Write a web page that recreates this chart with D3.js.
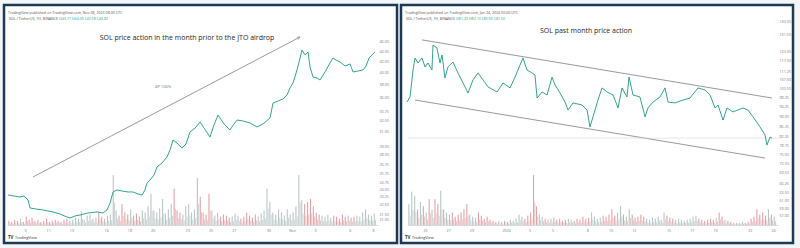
<!DOCTYPE html>
<html>
<head>
<meta charset="utf-8">
<script src="https://cdn.jsdelivr.net/npm/d3@7"></script>
<style>
  body { margin: 0; background: #f4f5f7; }
  svg { display: block; font-family: 'Open Sans', 'Noto Sans', sans-serif; }
</style>
</head>
<body>
<svg id="svg" width="800" height="248"></svg>
<script>
/*********************
 * Data
 *********************/
const leftTitle = 'SOL price action in the month prior to the JTO airdrop';
const rightTitle = 'SOL past month price action';
const leftHeader = ['TradingView published on TradingView.com, Nov 08, 2023 08:00 UTC', 'SOL / TetherUS, 1H, BINANCE', 'O43.71 H44.05 L43.58 C43.82'];
const rightHeader = ['TradingView published on TradingView.com, Jan 24, 2024 00:00 UTC', 'SOL / TetherUS, 1H, BINANCE', 'O81.20 H82.10 L80.90 C81.50'];
const leftNote = 'ΔP 106%';

// days counted from Oct 9 2023 00:00 UTC
const leftDays = [-1.47,-0.95,-0.43,-0.09,0.26,0.43,0.95,1.55,1.98,2.41,3.02,3.62,3.88,4.31,4.74,5.43,6.21,6.72,7.07,7.33,7.59,7.93,8.36,8.88,9.31,9.74,10.09,10.34,10.52,10.78,11.12,11.38,11.81,12.24,12.5,12.76,13.1,13.53,13.88,14.22,14.66,15.09,15.43,15.95,16.29,16.64,17.16,17.67,18.02,18.28,18.79,19.4,20,20.52,21.12,21.38,21.81,22.24,22.59,22.84,23.1,23.45,23.71,23.88,24.14,24.4,24.57,24.83,25.17,25.43,25.86,26.29,26.55,26.81,27.16,27.59,28.02,28.28,28.71,29.14,29.4,29.66,29.91,30.17];
const leftPrices = [23.41,23.30,23.20,23.30,22.90,22.11,22.01,21.92,21.82,21.73,21.53,21.25,21.16,21.35,21.44,21.63,21.73,21.63,21.92,22.60,23.72,23.93,23.82,23.72,23.72,23.51,23.41,23.93,24.67,25.00,25.55,26.47,26.93,27.65,28.51,29.79,29.40,28.76,29.27,30.86,31.40,32.24,31.40,30.18,31.82,33.24,31.96,31.13,31.96,32.52,32.38,32.10,31.54,31.96,32.81,35.04,35.35,35.66,36.29,37.42,38.25,40.50,42.69,44.21,43.25,43.82,41.03,39.27,39.10,38.76,40.14,41.76,42.69,42.31,41.94,41.21,41.58,40.14,40.32,40.50,41.21,42.69,43.25,43.82];
// 6-hour volume, first bar at day -1.5
const leftVolume = [4,3,5,4,6,3,8,5, 7,4,5,3,4,6,3,4, 5,4,3,5,6,4,5,7, 6,13,5,9,10,6,7,12,
  8,6,9,10,48,14,9,20, 12,10,15,9,11,8,14,12, 18,30,14,12,16,25,11,15, 20,35,14,12,10,18,20,12,
  15,45,27,12,10,30,14,9, 12,8,10,9,7,8,11,9, 6,8,12,9,7,10,8,11, 14,35,22,12,10,15,12,9,
  15,10,12,18,48,24,20,22, 25,18,12,10,9,8,10,7, 9,8,6,10,8,9,7,8, 9,8,12,15,10,9,11];
const leftTickDays = [0,2,4,7,9,11,14,16,18,21,23,25,28,30];
const leftTickLabels = ['9','11','13','16','18','20','23','25','27','30','Nov','3','6','8'];
const leftPriceTicks = [46,44,42,40,38,36,33.75,32.5,31,29,28,26.75,25.75,24.75,24,23.25,22.5,21.5,21];
const leftTrend = [[0.69, 25.33], [23.71, 46.8]];

// days counted from Dec 25 2023 00:00 UTC
const rightDays = [-1.55,-1.29,-1.03,-0.86,-0.6,-0.26,0,0.26,0.6,0.69,1.03,1.29,1.47,1.72,1.98,2.41,2.84,3.28,3.71,4.14,4.57,5,5.43,6.21,6.72,7.33,7.76,8.19,8.45,8.79,9.22,9.48,9.66,10.09,10.52,10.95,11.21,11.64,12.07,12.33,12.76,13.53,13.97,14.22,14.48,14.91,15.26,15.69,16.21,16.64,16.98,17.41,17.59,17.93,18.53,18.97,19.22,19.66,20.26,20.69,20.95,21.55,22.24,22.84,23.53,24.14,24.57,25,25.26,25.69,26.03,26.55,27.41,27.84,28.28,28.88,29.31,29.48,29.74,29.91];
const rightPrices = [96.3,98.6,111.7,118.1,115.4,118.1,113.3,115.4,111.7,125.4,123.7,115.4,119.7,107.7,113.3,115.9,110.2,105.2,100.4,106.7,110.2,106.7,103.3,100.9,105.2,102.8,108.1,114.3,118.1,111.7,110.2,109.2,98.1,100.9,99.5,108.1,104.2,100.4,96.3,92.8,95.9,95.0,92.8,85.8,89.9,97.2,102.8,100.9,99.5,93.7,102.8,98.6,108.1,99.5,98.6,89.9,93.7,96.3,98.6,102.8,96.3,95.9,97.2,98.1,102.8,101.8,99.5,93.7,95.0,88.6,93.7,92.0,93.7,92.8,89.9,85.8,82.7,78.9,81.9,81.5];
const rightVolume = [20,32,28,15,22,18,12,25, 15,25,20,33,15,12,10,12, 8,10,12,15,20,10,8,7, 12,9,6,8,5,4,3,4,
  3,4,3,5,4,6,10,8, 6,9,12,48,18,10,8,6, 5,6,7,5,6,4,5,6, 5,4,6,5,8,6,7,12,
  8,6,7,9,8,10,15,9, 12,18,10,8,15,10,7,8, 10,8,6,5,7,6,8,5, 12,9,7,6,5,6,5,4,
  5,6,8,9,6,5,4,5, 6,5,7,12,8,5,4,3, 2,2,2,3,2,3,6,8, 15,10,12,9,15,10,8];
const rightTickDays = [0,2,4,7,9,11,14,16,18,21,23,25,28,30];
const rightTickLabels = ['25','27','29','2024','3','5','8','10','12','15','17','19','22','24'];
const rightPriceTicks = [140,131.5,122,117,111.25,107,102.5,98.25,94.25,90,86.25,82.25,78.75,75.5,72.5,69.5,66.25,63.5,61,59,57];
const rightChannel = [[[-0.26, 128.4], [29.91, 98.1]], [[-0.86, 97.2], [29.31, 74.3]]];
const rightLastPrice = 81.5;

/*********************
 * Helpers
 *********************/
const DAY = 864e5;
const toDate = (start, d) => new Date(start + d * DAY);

function priceAt(days, prices, d) {
  const i = d3.bisectLeft(days, d);
  if (i <= 0) return prices[0];
  if (i >= days.length) return prices[prices.length - 1];
  const t = (d - days[i - 1]) / (days[i] - days[i - 1]);
  return prices[i - 1] + t * (prices[i] - prices[i - 1]);
}

/*********************
 * Panel drawing
 *********************/
function drawPanel(svg, p) {
  const g = svg.append('g');

  g.append('rect')
    .attr('x', p.frame[0]).attr('y', 5)
    .attr('width', p.frame[1] - p.frame[0]).attr('height', 238)
    .attr('fill', '#fff')
    .attr('stroke', '#1c3a57')
    .attr('stroke-width', 2.5);

  const x = d3.scaleTime()
    .domain([toDate(p.start, -1.5), toDate(p.start, 30.3)])
    .range([p.plot[0], p.plot[1]]);
  const y = d3.scaleLog().domain(p.priceDomain).range([225, 27]);
  const v = d3.scaleLinear().domain([0, 48]).range([0, 50]);

  // header
  g.append('text').attr('x', p.frame[0] + 4).attr('y', 13.5)
    .attr('font-size', 3.6).attr('fill', '#555').text(p.header[0]);
  const h2 = g.append('text').attr('x', p.frame[0] + 5).attr('y', 20)
    .attr('font-size', 3.6).attr('fill', '#555');
  h2.append('tspan').text(p.header[1] + '  ');
  h2.append('tspan').attr('fill', '#22a088').text(p.header[2]);

  // volume: thin bars like the hourly ones in the screenshot
  const vg = g.append('g');
  p.volume.forEach((val, i) => {
    const d0 = -1.5 + i * 0.25;
    const up = priceAt(p.days, p.prices, d0 + 0.25) >= priceAt(p.days, p.prices, d0);
    vg.append('rect')
      .attr('x', x(toDate(p.start, d0 + 0.06)))
      .attr('width', 1.1)
      .attr('y', 225 - v(val))
      .attr('height', v(val))
      .attr('fill', up ? '#b9c8c5' : '#e3a4a9');
    // low companion bar so the band looks dense
    vg.append('rect')
      .attr('x', x(toDate(p.start, d0 + 0.17)))
      .attr('width', 1)
      .attr('y', 225 - v(val) * 0.45)
      .attr('height', v(val) * 0.45)
      .attr('fill', up ? '#ccd6d4' : '#ecc3c6');
  });

  g.append('line')
    .attr('x1', p.plot[0]).attr('x2', p.plot[1] + 2)
    .attr('y1', 225.5).attr('y2', 225.5)
    .attr('stroke', '#c4c7cd').attr('stroke-width', 0.7);

  // drawings
  (p.drawn || []).forEach(seg => {
    g.append('line')
      .attr('x1', x(toDate(p.start, seg[0][0]))).attr('y1', y(seg[0][1]))
      .attr('x2', x(toDate(p.start, seg[1][0]))).attr('y2', y(seg[1][1]))
      .attr('stroke', '#7d7f86').attr('stroke-width', 0.8)
      .attr('marker-end', p.arrow ? 'url(#arrow)' : null);
  });

  if (p.lastPrice) {
    g.append('line')
      .attr('x1', p.plot[0]).attr('x2', p.plot[1] + 4)
      .attr('y1', y(p.lastPrice)).attr('y2', y(p.lastPrice))
      .attr('stroke', '#d3d6db').attr('stroke-width', 0.6);
  }

  // price line
  const line = d3.line()
    .x((d, i) => x(toDate(p.start, p.days[i])))
    .y(d => y(d));
  g.append('path')
    .datum(p.prices)
    .attr('d', line)
    .attr('fill', 'none')
    .attr('stroke', '#1c9a82')
    .attr('stroke-width', 0.9)
    .attr('stroke-linejoin', 'round');

  // axes
  const xAxis = d3.axisBottom(x)
    .tickValues(p.tickDays.map(d => toDate(p.start, d)))
    .tickFormat((d, i) => p.tickLabels[i])
    .tickSize(0).tickPadding(3);
  const xa = g.append('g').attr('transform', 'translate(0,226)').call(xAxis);

  const yAxis = d3.axisRight(y)
    .tickValues(p.priceTicks)
    .tickFormat(d3.format('.2f'))
    .tickSize(0).tickPadding(0);
  const ya = g.append('g').attr('transform', `translate(${p.plot[1] + 3},0)`).call(yAxis);

  [xa, ya].forEach(a => {
    a.select('.domain').remove();
    a.selectAll('text')
      .attr('font-size', 3.7)
      .attr('fill', '#787b86')
      .attr('font-family', "'Open Sans', sans-serif");
  });

  // title
  g.append('text')
    .attr('x', p.titlePos[0]).attr('y', p.titlePos[1])
    .attr('text-anchor', 'middle')
    .attr('font-size', 7)
    .attr('fill', '#1e1e1e')
    .text(p.title);

  // logo
  const logo = g.append('text').attr('x', p.frame[0] + 4).attr('y', 238.5)
    .attr('font-size', 3.8).attr('fill', '#333');
  logo.append('tspan').attr('font-weight', 'bold').attr('font-size', 4.4).text('TV');
  logo.append('tspan').attr('dx', 1.5).text('TradingView');

  return {x, y, g};
}

/*********************
 * Build
 *********************/
const svg = d3.select('#svg');
svg.append('defs').append('marker')
  .attr('id', 'arrow')
  .attr('viewBox', '0 0 10 10')
  .attr('refX', 9).attr('refY', 5)
  .attr('markerWidth', 5).attr('markerHeight', 5)
  .attr('orient', 'auto')
  .append('path')
  .attr('d', 'M1,1 L9,5 L1,9')
  .attr('fill', 'none')
  .attr('stroke', '#7d7f86')
  .attr('stroke-width', 1.2);

const left = drawPanel(svg, {
  frame: [4, 397], plot: [7.6, 376.5],
  start: Date.UTC(2023, 9, 9),
  priceDomain: [20.52, 48.9],
  days: leftDays, prices: leftPrices, volume: leftVolume,
  tickDays: leftTickDays, tickLabels: leftTickLabels, priceTicks: leftPriceTicks,
  drawn: [leftTrend], arrow: true,
  header: leftHeader, title: leftTitle, titlePos: [187, 39.5]
});

left.g.append('text')
  .attr('x', left.x(toDate(Date.UTC(2023, 9, 9), 11.9)))
  .attr('y', left.y(37.4))
  .attr('text-anchor', 'middle')
  .attr('font-size', 4)
  .attr('fill', '#6b6e75')
  .text(leftNote);

drawPanel(svg, {
  frame: [401, 793], plot: [407.6, 776.5],
  start: Date.UTC(2023, 11, 25),
  priceDomain: [54.5, 136.3],
  days: rightDays, prices: rightPrices, volume: rightVolume,
  tickDays: rightTickDays, tickLabels: rightTickLabels, priceTicks: rightPriceTicks,
  drawn: rightChannel, lastPrice: rightLastPrice,
  header: rightHeader, title: rightTitle, titlePos: [586, 32.5]
});
</script>
</body>
</html>
